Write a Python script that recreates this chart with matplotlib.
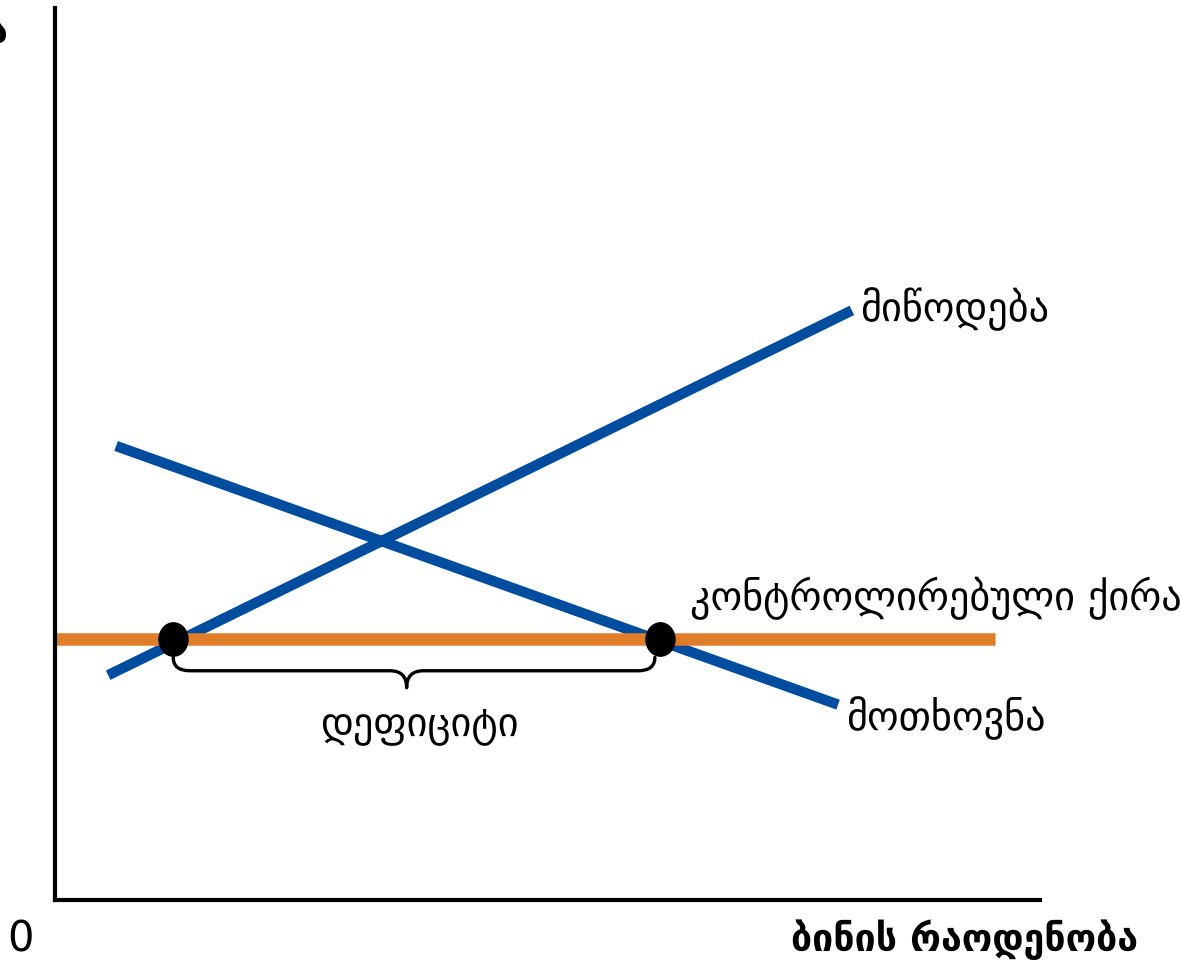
import numpy as np
import matplotlib.pyplot as plt
from matplotlib.path import Path
from matplotlib.patches import PathPatch

plt.rcParams['font.family'] = ['DejaVu Sans']

# line end points (x, y) in chart units 0..100
supply_x = [5.4, 80.9]
supply_y = [25.2, 66.1]
demand_x = [6.2, 79.5]
demand_y = [50.9, 21.9]
ceiling_x = [0, 95.4]
ceiling_y = [29.3, 29.3]
shortage_x = [12.0, 61.4]   # quantity supplied / demanded at the ceiling

BLUE = '#004c9e'
ORANGE = '#e07d2a'

W, H = 1181, 968
fig = plt.figure(figsize=(W / 100, H / 100), dpi=100)
ax = fig.add_axes([55 / W, (H - 900) / H, 985 / W, 892 / H])
ax.set_xlim(0, 100)
ax.set_ylim(0, 100)
ax.set_xticks([])
ax.set_yticks([])
for s in ['top', 'right']:
    ax.spines[s].set_visible(False)
for s in ['left', 'bottom']:
    ax.spines[s].set_linewidth(3)

ax.plot(supply_x, supply_y, color=BLUE, lw=7.5, solid_capstyle='butt')
ax.plot(demand_x, demand_y, color=BLUE, lw=7.5, solid_capstyle='butt')
ax.plot(ceiling_x, ceiling_y, color=ORANGE, lw=9, solid_capstyle='butt')
# slightly tall dots like the original
dot = Path.unit_circle().transformed(
    plt.matplotlib.transforms.Affine2D().scale(1.0, 1.15))
ax.plot(shortage_x, [ceiling_y[0]] * 2, marker=dot, ls='none',
        color='black', ms=24, zorder=5)

# curly brace under the shortage
x1, x2 = shortage_x[0], shortage_x[1] - 0.5
xc = 35.7
yt, yf, yb = 27.2, 25.7, 23.8
r = 1.7
verts = [(x1, yt), (x1, yf), (x1 + r, yf), (xc - r, yf), (xc, yf), (xc, yb),
         (xc, yf), (xc + r, yf), (x2 - r, yf), (x2, yf), (x2, yt)]
codes = [Path.MOVETO, Path.CURVE3, Path.CURVE3, Path.LINETO, Path.CURVE3,
         Path.CURVE3, Path.CURVE3, Path.CURVE3, Path.LINETO, Path.CURVE3,
         Path.CURVE3]
brace = PathPatch(Path(verts, codes), fill=False, lw=2.4, ec='black',
                  zorder=4, capstyle='round', joinstyle='round')
ax.add_patch(brace)

fs = 29
ax.text(81.7, 66.2, 'მიწოდება', fontsize=fs, va='center', ha='left')
ax.text(64.5, 33.8, 'კონტროლირებული ქირა', fontsize=fs, va='center', ha='left')
ax.text(80.3, 20.4, 'მოთხოვნა', fontsize=fs, va='center', ha='left')
ax.text(37.0, 19.6, 'დეფიციტი', fontsize=fs, va='center', ha='center')

fig.text(8 / W, 1 - 32 / H, 'ქირა', fontsize=27, fontweight='bold',
         ha='right', va='center')
fig.text(20 / W, 1 - 940 / H, '0', fontsize=30, ha='center', va='center')
fig.text(1138 / W, 1 - 940 / H, 'ბინის რაოდენობა', fontsize=27,
         fontweight='bold', ha='right', va='center')

fig.savefig('out.png', dpi=100)
